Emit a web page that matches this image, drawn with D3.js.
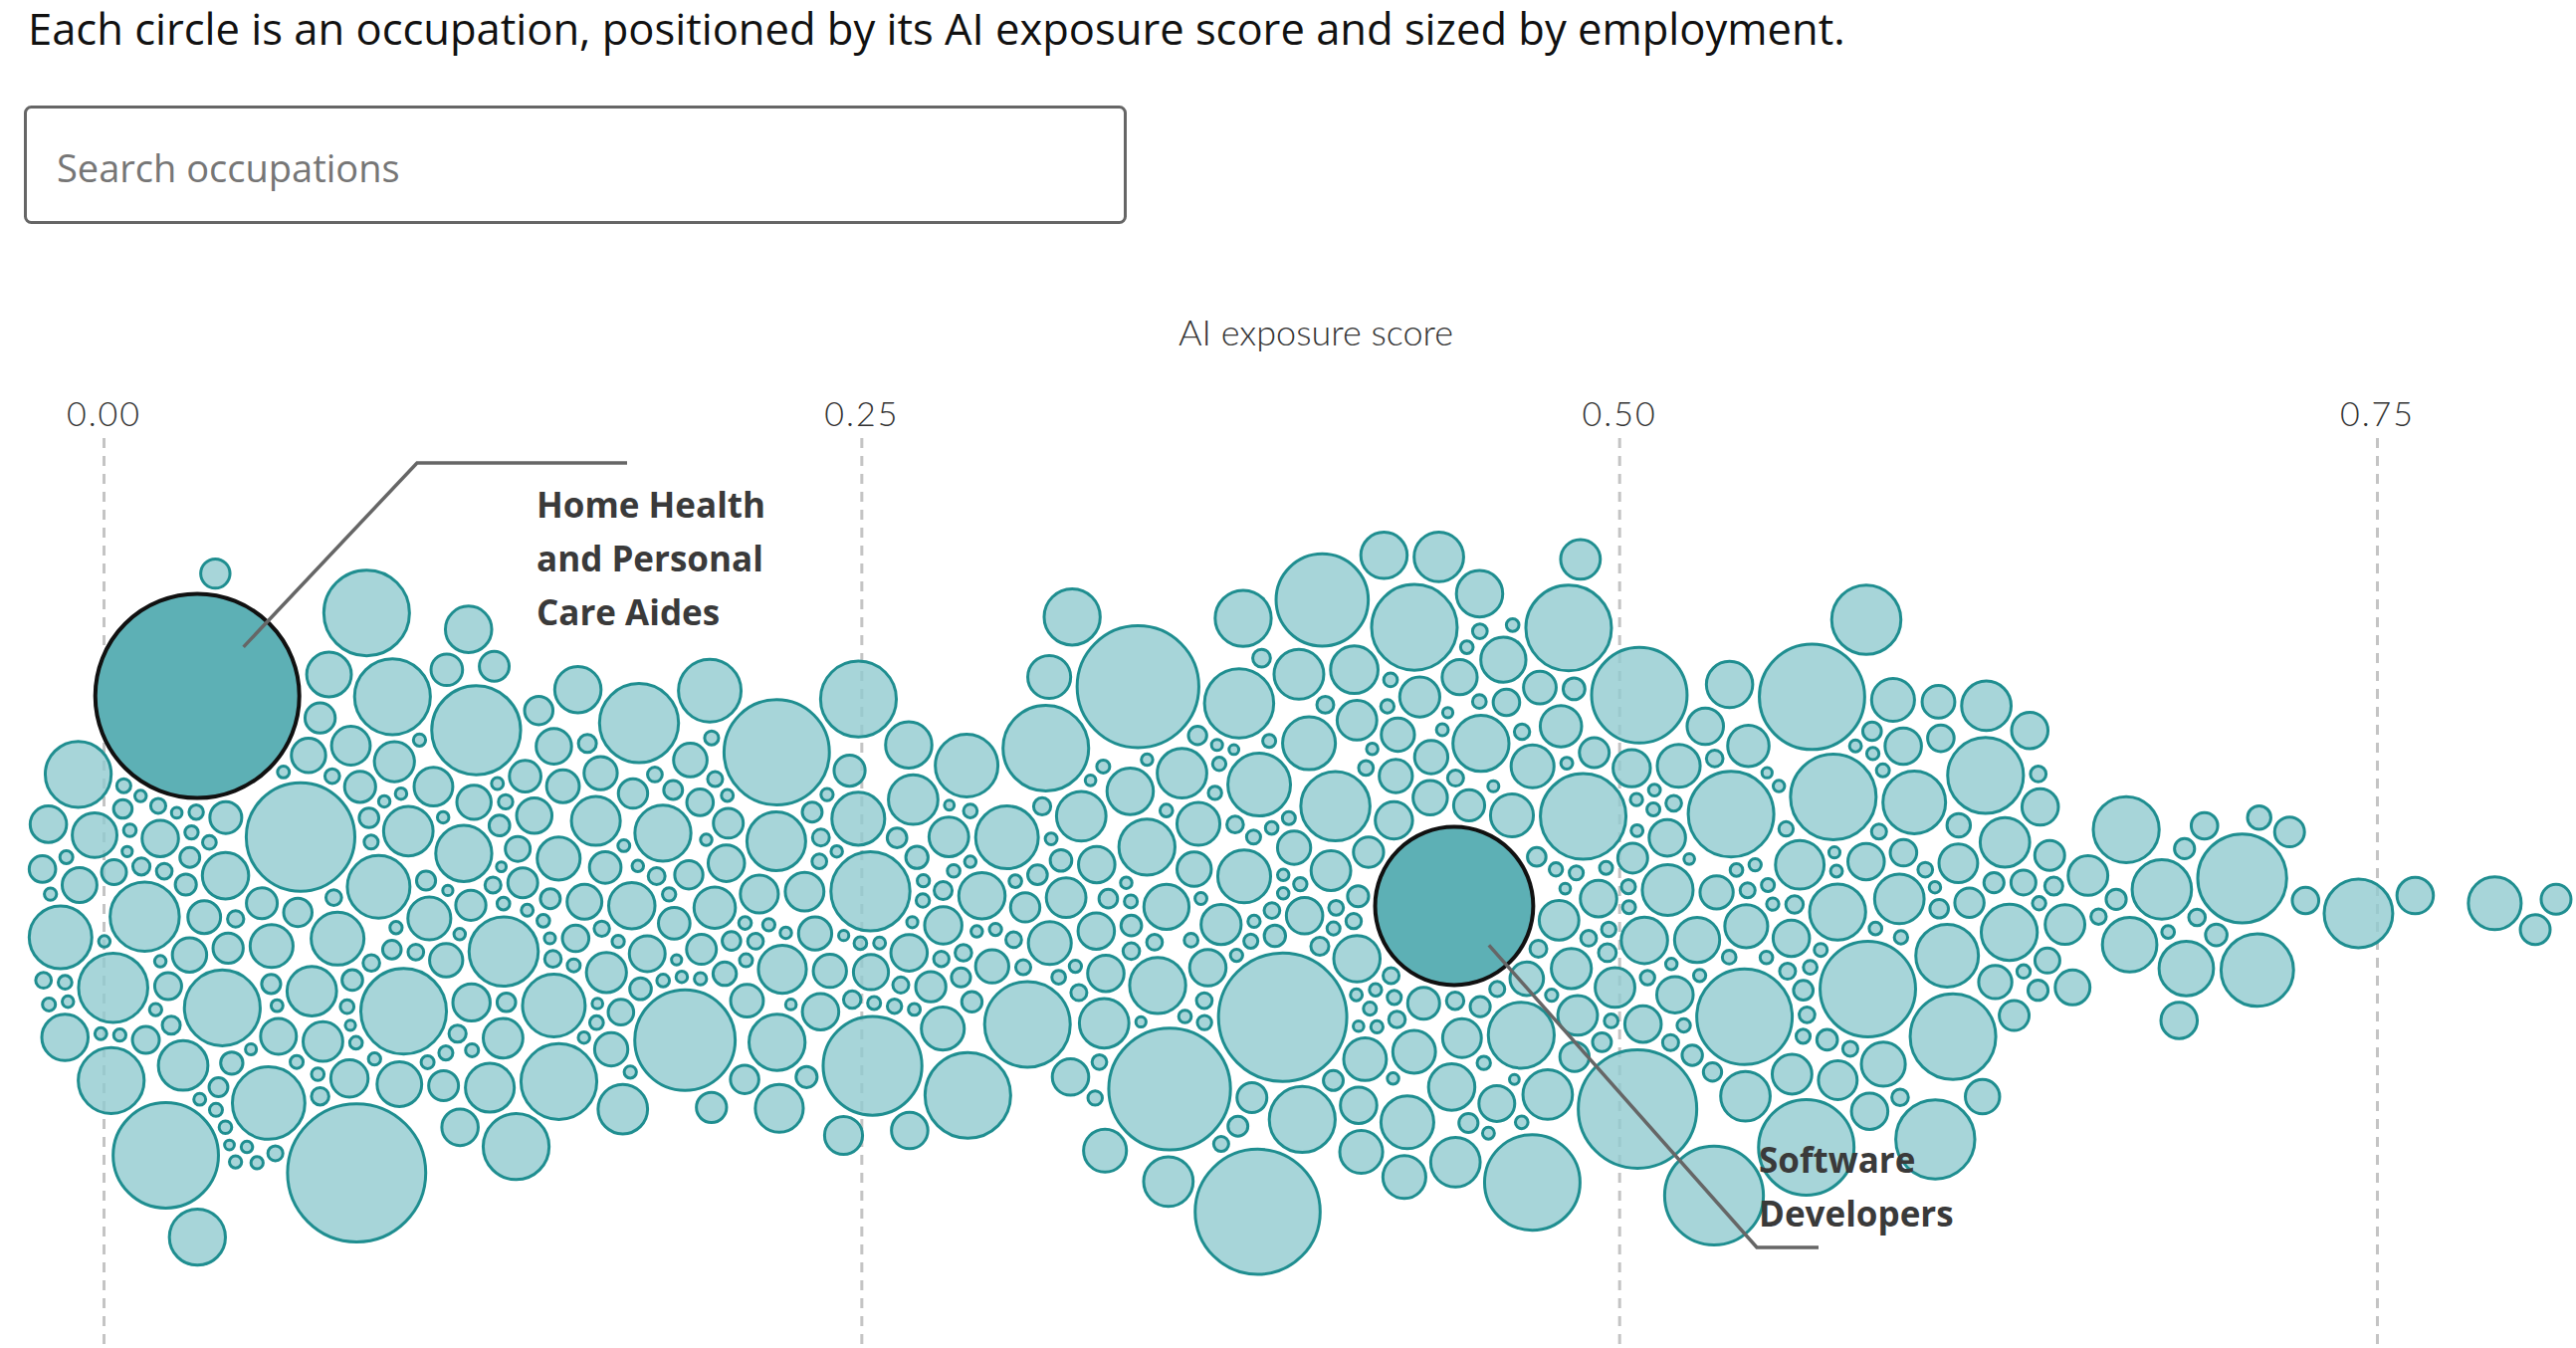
<!DOCTYPE html>
<html lang="en">
<head>
<meta charset="UTF-8">
<title>AI exposure by occupation</title>
<script src="https://cdn.jsdelivr.net/npm/d3@7"></script>
<style>
  body { margin: 0; background: #fff; }
  svg { display: block; }
</style>
</head>
<body>
<svg width="2588" height="1354"></svg>
<script>
// [AI exposure score, employment in thousands], grouped by exposure band
const band0 = [[0.023,1013],[0.081,1720],[0.060,1075],[0.094,678],[0.087,678],[0.079,269],[0.062,238],[0.090,372],[0.029,301],[0.011,450],[0.016,450],[0.007,410],[0.000,410],[0.000,372],[0.000,210],[0.000,134],[0.041,536],[0.061,492],[0.031,238],[0.099,238],[0.064,210],[0.048,182],[0.094,536],[0.078,196],[0.093,196],[0.060,157],[0.017,134],[0.000,196],[0.002,67],[0.000,123],[0.000,75],
  [0.029,77],[0.039,41],[0.050,99],[0.023,77],[0.072,120],[0.085,140],[0.055,105],[0.068,95],[0.097,160],[0.045,110],[0.052,130],[0.088,100],[0.075,150],[0.036,90],[0.030,120],[0.042,95],[0.056,85],
  [0.000,30],[0.001,22],[0.003,18],[0.004,40],[0.006,25],[0.008,15],[0.010,35],[0.012,20],[0.014,28],[0.018,45],[0.020,16],[0.022,30],[0.025,24],[0.027,50],[0.030,18],[0.033,38],[0.035,22],[0.038,14],[0.040,32],[0.043,26],[0.046,20],[0.049,55],[0.051,17],[0.054,42],[0.057,28],[0.059,19],[0.063,36],[0.066,24],[0.069,48],[0.071,15],[0.074,30],[0.077,21],[0.080,44],[0.083,27],[0.086,18],[0.089,33],[0.092,25],[0.095,40],[0.098,20],
  [0.000,20],[0.000,24],[0.001,18],[0.002,22],[0.005,19],[0.009,21],[0.013,18],[0.019,20],[0.024,23],[0.032,19],[0.037,21],[0.044,18],[0.053,20],[0.058,22],[0.067,19],[0.073,21],[0.082,18],[0.091,20],[0.096,22]];
const band1 = [[0.119,210],[0.138,410],[0.110,93],[0.121,134],[0.133,93],[0.152,210],[0.167,103],[0.183,301],[0.113,182],[0.145,536],[0.125,93],[0.122,729],[0.151,372],[0.170,238],[0.160,113],[0.174,210],[0.188,103],[0.197,84],[0.138,232],[0.156,232],[0.145,182],[0.115,301],[0.111,103],[0.128,67],[0.164,123],[0.134,103],[0.129,157],[0.152,127],[0.191,923],[0.176,581],[0.133,450],[0.111,113],[0.156,113],[0.139,127],[0.164,70],[0.158,75],[0.196,93],
  [0.104,150],[0.108,120],[0.117,95],[0.126,140],[0.142,85],[0.148,110],[0.162,160],[0.172,90],[0.180,130],[0.186,75],[0.194,115],[0.199,95],
  [0.101,30],[0.103,18],[0.106,42],[0.109,25],[0.112,15],[0.114,35],[0.118,22],[0.120,48],[0.123,19],[0.127,31],[0.130,26],[0.132,14],[0.136,40],[0.140,21],[0.143,33],[0.147,17],[0.150,45],[0.154,24],[0.157,29],[0.161,16],[0.165,38],[0.168,20],[0.171,52],[0.175,27],[0.178,18],[0.181,34],[0.185,23],[0.189,41],[0.192,15],[0.198,28],
  [0.102,20],[0.116,18],[0.131,21],[0.137,19],[0.146,22],[0.153,18],[0.163,20],[0.169,19],[0.179,21],[0.187,18],[0.195,20]];
const band2 = [[0.204,372],[0.221,224],[0.226,224],[0.205,60],[0.203,170],[0.225,301],[0.224,1013],[0.224,329],[0.219,145],[0.246,145],[0.249,536],[0.252,894],[0.255,581],[0.249,269],[0.269,238],[0.263,210],[0.277,182],[0.285,678],[0.287,372],[0.280,157],[0.296,210],[0.292,113],[0.269,134],[0.266,134],[0.237,113],[0.239,134],[0.212,93],[0.212,134],[0.237,113],
  [0.208,110],[0.216,85],[0.231,150],[0.243,100],[0.258,125],[0.272,95],[0.283,140],[0.298,90],
  [0.201,25],[0.207,40],[0.210,18],[0.214,30],[0.218,22],[0.222,45],[0.228,16],[0.230,34],[0.233,20],[0.235,50],[0.241,27],[0.244,15],[0.247,36],[0.251,21],[0.254,44],[0.257,19],[0.260,31],[0.262,26],[0.265,55],[0.268,17],[0.271,38],[0.274,23],[0.276,29],[0.279,14],[0.282,42],[0.286,24],[0.289,33],[0.291,18],[0.294,47],[0.297,21],[0.299,30],
  [0.206,19],[0.215,21],[0.227,18],[0.238,20],[0.248,22],[0.256,18],[0.264,20],[0.273,19],[0.281,21],[0.290,18],[0.295,20]];
const band3 = [[0.303,678],[0.309,678],[0.303,372],[0.321,182],[0.326,301],[0.324,238],[0.313,182],[0.332,134],[0.334,134],[0.321,157],[0.340,238],[0.357,1343],[0.382,1414],[0.350,1343],[0.389,1488],[0.354,301],[0.396,269],[0.386,372],[0.380,269],[0.367,238],[0.357,238],[0.369,450],[0.378,410],[0.353,301],[0.336,182],[0.323,134],[0.389,301],[0.345,210],[0.367,182],[0.340,134],[0.372,93],[0.367,134],[0.356,200],[0.375,160],[0.392,240],[0.363,120],
  [0.301,28],[0.305,44],[0.307,19],[0.311,35],[0.315,24],[0.317,52],[0.319,16],[0.328,31],[0.330,22],[0.338,40],[0.342,18],[0.344,27],[0.347,48],[0.349,15],[0.352,33],[0.359,21],[0.361,39],[0.363,26],[0.365,17],[0.371,45],[0.374,23],[0.376,30],[0.379,14],[0.383,37],[0.385,20],[0.388,51],[0.391,25],[0.393,18],[0.395,34],[0.398,22],
  [0.331,20],[0.337,26],[0.343,18],[0.348,22],[0.355,30],[0.358,21],[0.362,24],[0.366,19],[0.370,28],[0.373,23],[0.377,33],[0.381,20],[0.384,25],[0.387,22],[0.390,30],[0.392,18],[0.394,23],[0.397,21],[0.399,27]];
const band4 = [[0.404,782],[0.408,210],[0.410,450],[0.420,182],[0.403,134],[0.411,157],[0.415,134],[0.430,269],[0.429,678],[0.421,210],[0.443,210],[0.444,210],[0.454,182],[0.429,113],[0.468,837],[0.480,678],[0.481,678],[0.473,410],[0.453,301],[0.437,238],[0.432,182],[0.451,238],[0.472,238],[0.487,157],[0.467,75],[0.491,93],[0.459,157],[0.467,182],[0.486,157],[0.491,134],[0.410,157],[0.406,113],[0.436,113],[0.441,113],[0.405,220],[0.433,180],[0.458,200],[0.488,160],
  [0.412,180],[0.418,95],[0.425,140],[0.434,160],[0.438,120],[0.447,100],[0.456,150],[0.462,130],[0.476,110],[0.483,170],[0.489,90],[0.495,140],[0.427,105],[0.449,125],[0.470,115],
  [0.401,22],[0.405,38],[0.409,16],[0.413,29],[0.416,45],[0.419,20],[0.423,33],[0.426,18],[0.431,50],[0.435,24],[0.439,15],[0.442,36],[0.445,27],[0.448,19],[0.450,42],[0.452,23],[0.455,31],[0.458,17],[0.461,46],[0.464,21],[0.466,34],[0.469,14],[0.471,28],[0.474,40],[0.477,19],[0.479,25],[0.482,53],[0.485,22],[0.488,30],[0.490,16],[0.493,37],[0.496,24],[0.498,20],
  [0.402,22],[0.407,19],[0.414,25],[0.417,20],[0.422,31],[0.424,18],[0.428,23],[0.433,27],[0.440,21],[0.446,24],[0.457,19],[0.460,29],[0.463,21],[0.478,23],[0.484,20],[0.492,26],[0.497,19]];
const band5 = [[0.501,837],[0.533,678],[0.513,134],[0.527,134],[0.505,1273],[0.534,210],[0.530,113],[0.502,93],[0.508,134],[0.502,157],[0.526,894],[0.560,837],[0.543,837],[0.565,1013],[0.577,450],[0.575,837],[0.563,301],[0.548,238],[0.568,678],[0.595,372],[0.582,182],[0.594,134],[0.593,238],[0.592,75],[0.581,134],[0.508,210],[0.510,134],[0.543,182],[0.548,157],[0.519,182],[0.551,134],[0.583,134],
  [0.507,250],[0.522,200],[0.540,170],[0.557,230],[0.574,150],[0.589,190],
  [0.503,25],[0.506,41],[0.511,18],[0.515,30],[0.517,22],[0.521,47],[0.523,16],[0.529,33],[0.536,20],[0.538,39],[0.541,26],[0.545,15],[0.550,44],[0.553,21],[0.556,31],[0.558,17],[0.561,36],[0.566,24],[0.570,48],[0.572,19],[0.579,28],[0.585,40],[0.588,22],[0.590,33],[0.597,18],[0.599,27],
  [0.504,22],[0.509,26],[0.512,19],[0.516,23],[0.520,31],[0.525,20],[0.531,24],[0.535,21],[0.539,28],[0.544,18],[0.547,22],[0.552,20],[0.557,30],[0.562,22],[0.567,19],[0.571,25],[0.576,21],[0.580,28],[0.586,20],[0.591,23]];
const band6 = [[0.607,678],[0.600,581],[0.615,536],[0.603,372],[0.618,238],[0.620,238],[0.623,301],[0.628,134],[0.632,134],[0.601,75],[0.627,113],[0.625,93],[0.638,93],[0.634,67],[0.635,67],[0.637,46],[0.629,23],[0.632,23],[0.648,157],[0.655,157],[0.648,123],[0.668,410],[0.687,285],[0.670,285],[0.679,336],[0.685,134],[0.694,75],[0.686,46],[0.664,46],[0.693,33],[0.620,46],[0.611,60],[0.605,40],[0.614,90],[0.622,30],[0.609,110],[0.699,52],[0.642,38],[0.659,29],[0.675,21],[0.604,150],[0.616,120]];
const band7 = [[0.709,492],[0.705,729],[0.717,93],[0.714,60],[0.727,75],[0.744,442],[0.762,134],[0.789,269],[0.802,93],[0.809,93]];

// the two labelled occupations
const labeled = [
  { name: "Home Health and Personal Care Aides", score: 0.034, emp: 3700 },
  { name: "Software Developers", score: 0.446, emp: 2240 }
];
const labelLines = [["Home Health", "and Personal", "Care Aides"], ["Software", "Developers"]];

const tickValues = [0, 0.25, 0.5, 0.75];
const titleText = "Each circle is an occupation, positioned by its AI exposure score and sized by employment.";

const svg = d3.select('svg');
const width = +svg.attr('width');
const height = +svg.attr('height');
const cy = 910;

const x = d3.scaleLinear().domain([0, 0.75]).range([104, 2388]);
const r = d3.scaleSqrt().domain([0, 3700]).range([0, 104]);

// title + search box
svg.append('text')
  .attr('x', 28).attr('y', 45)
  .attr('font-family', "'Open Sans', sans-serif")
  .attr('font-size', 43.5)
  .attr('fill', '#111')
  .text(titleText);

svg.append('rect')
  .attr('x', 25.5).attr('y', 107.5)
  .attr('width', 1105).attr('height', 116)
  .attr('rx', 6)
  .attr('fill', '#fff')
  .attr('stroke', '#666')
  .attr('stroke-width', 3);
svg.append('text')
  .attr('x', 57).attr('y', 183)
  .attr('font-family', "'Open Sans', sans-serif")
  .attr('font-size', 38)
  .attr('fill', '#767676')
  .text('Search occupations');

// axis
svg.append('text')
  .attr('x', 1322).attr('y', 347)
  .attr('text-anchor', 'middle')
  .attr('font-family', "Lato, sans-serif")
  .attr('font-weight', 300)
  .attr('font-size', 36)
  .attr('fill', '#333')
  .text('AI exposure score');

const axisG = svg.append('g')
  .attr('transform', 'translate(0,440)')
  .call(d3.axisTop(x).tickValues(tickValues).tickFormat(d3.format('.2f'))
    .tickSize(-(height - 440)).tickPadding(12));
axisG.select('.domain').remove();
axisG.selectAll('line')
  .attr('stroke', '#c4c4c4')
  .attr('stroke-width', 3)
  .attr('stroke-dasharray', '10 8');
axisG.selectAll('text')
  .attr('font-family', "Lato, sans-serif")
  .attr('font-weight', 300)
  .attr('font-size', 34)
  .attr('letter-spacing', 2)
  .attr('fill', '#333');

// beeswarm layout: labelled occupations first, then the rest
const rows = labeled.map((d, i) => ({ score: d.score, emp: d.emp, hi: true, label: i }))
  .concat([].concat(band0, band1, band2, band3, band4, band5, band6, band7)
    .map(([score, emp]) => ({ score, emp, hi: false })));

const jit = d3.randomLcg(0);
const nodes = rows.map(d => ({ ...d, r: r(d.emp), x: x(d.score), y: cy + (jit() - 0.5) * 80 }));
// software developers stay on the centre line of the swarm
nodes[1].fy = cy;

const sim = d3.forceSimulation(nodes)
  .randomSource(d3.randomLcg(11))
  .force('x', d3.forceX(d => x(d.score)).strength(0.7))
  .force('y', d3.forceY(cy).strength(0.035))
  .force('collide', d3.forceCollide(d => d.r + 2).iterations(3))
  .stop();
for (let i = 0; i < 500; i++) sim.tick();

const g = svg.append('g');
g.selectAll('circle')
  .data(nodes.filter(d => !d.hi))
  .join('circle')
  .attr('cx', d => d.x)
  .attr('cy', d => d.y)
  .attr('r', d => Math.max(d.r - 1.5, 2))
  .attr('fill', 'rgb(145,203,207)')
  .attr('fill-opacity', 0.8)
  .attr('stroke', '#1f8e90')
  .attr('stroke-width', 3);

// annotations
const anno = [
  { elbow: [419, 465], end: [630, 465], tx: 539, ty: 520 },
  { elbow: [1765, 1253], end: [1827, 1253], tx: 1767, ty: 1178 }
];
const hiNodes = nodes.filter(d => d.hi);

g.selectAll('circle.hi')
  .data(hiNodes)
  .join('circle')
  .attr('class', 'hi')
  .attr('cx', d => d.x)
  .attr('cy', d => d.y)
  .attr('r', d => d.r - 1.5)
  .attr('fill', '#5db0b5')
  .attr('stroke', '#111')
  .attr('stroke-width', 4);

hiNodes.forEach(d => {
  const a = anno[d.label];
  const dx = a.elbow[0] - d.x, dy = a.elbow[1] - d.y;
  const len = Math.sqrt(dx * dx + dy * dy);
  const sx = d.x + dx / len * d.r * 0.65, sy = d.y + dy / len * d.r * 0.65;
  svg.append('path')
    .attr('d', d3.line()([[sx, sy], a.elbow, a.end]))
    .attr('fill', 'none')
    .attr('stroke', '#666')
    .attr('stroke-width', 3.5);
  const t = svg.append('text')
    .attr('font-family', "'Open Sans', sans-serif")
    .attr('font-weight', 700)
    .attr('font-size', 35)
    .attr('fill', '#3a3a3a');
  labelLines[d.label].forEach((line, i) => {
    t.append('tspan').attr('x', a.tx).attr('y', a.ty + i * 54).text(line);
  });
});
</script>
</body>
</html>
